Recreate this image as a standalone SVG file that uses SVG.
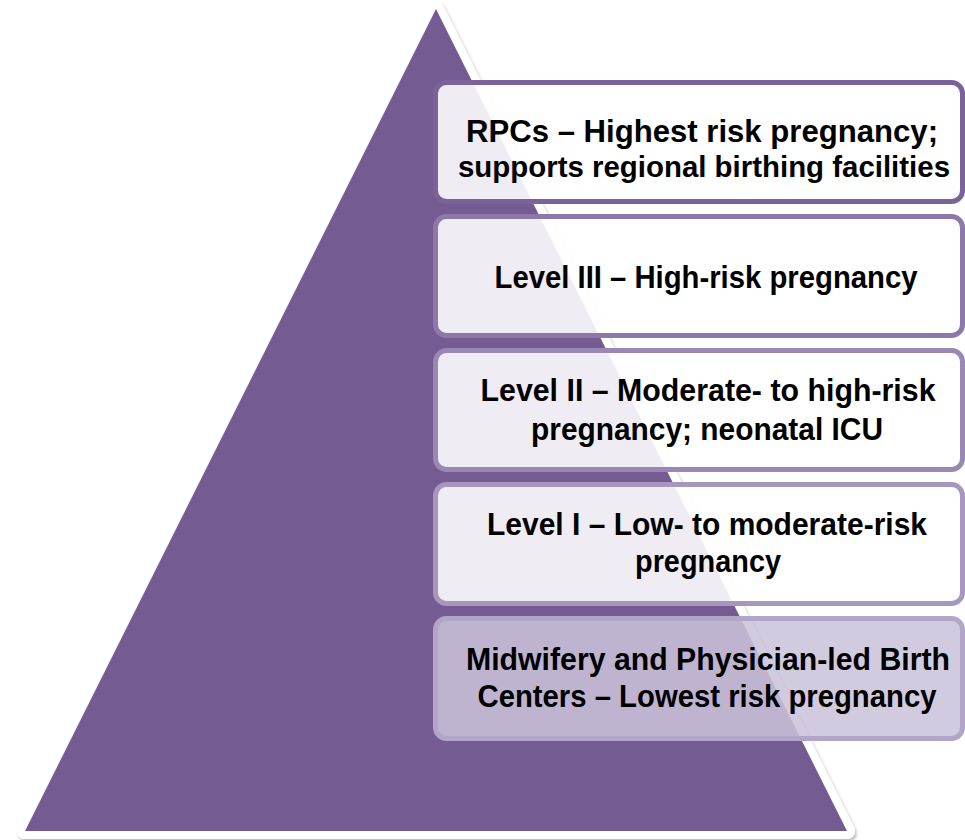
<svg xmlns="http://www.w3.org/2000/svg" width="965" height="840" viewBox="0 0 965 840">
  <style>
    .lbl { font-family: "Liberation Sans", Arial, sans-serif; font-weight: bold; font-size: 30.5px; fill: #000; text-anchor: middle; }
    .box { stroke-width: 5; }
  </style>
  <defs>
    <filter id="sh" x="-5%" y="-5%" width="110%" height="110%">
      <feDropShadow dx="1.5" dy="2.5" stdDeviation="1.8" flood-color="#000" flood-opacity="0.28"/>
    </filter>
  </defs>
  <rect width="965" height="840" fill="#fff"/>
  <g id="pyramid">
    <polygon points="436,9 25,831 847,831" fill="#fff" stroke="#fff" stroke-width="16" stroke-linejoin="round" filter="url(#sh)"/>
    <polygon points="436,9 25,831 847,831" fill="#745C93"/>
  </g>
  <g id="level-rpc">
    <rect class="box" x="435.5" y="82.5" width="527" height="119" rx="11" fill="#fff" fill-opacity="0.885" stroke="#7A6399"/>
    <text class="lbl" x="702" y="142" textLength="472" lengthAdjust="spacingAndGlyphs">RPCs – Highest risk pregnancy;</text>
    <text class="lbl" x="704" y="177" style="font-size:29.5px" textLength="492" lengthAdjust="spacingAndGlyphs">supports regional birthing facilities</text>
  </g>
  <g id="level-3">
    <rect class="box" x="435.5" y="216.5" width="527" height="119" rx="11" fill="#fff" fill-opacity="0.885" stroke="#8C78A9"/>
    <text class="lbl" x="706" y="288" textLength="423" lengthAdjust="spacingAndGlyphs">Level III – High-risk pregnancy</text>
  </g>
  <g id="level-2">
    <rect class="box" x="435.5" y="350.5" width="527" height="119" rx="11" fill="#fff" fill-opacity="0.885" stroke="#9987B4"/>
    <text class="lbl" x="708" y="401" textLength="455" lengthAdjust="spacingAndGlyphs">Level II – Moderate- to high-risk</text>
    <text class="lbl" x="707" y="440" textLength="352" lengthAdjust="spacingAndGlyphs">pregnancy; neonatal ICU</text>
  </g>
  <g id="level-1">
    <rect class="box" x="435.5" y="484.5" width="527" height="119" rx="11" fill="#fff" fill-opacity="0.885" stroke="#A797BE"/>
    <text class="lbl" x="707" y="535" textLength="440" lengthAdjust="spacingAndGlyphs">Level I – Low- to moderate-risk</text>
    <text class="lbl" x="708" y="572" textLength="146" lengthAdjust="spacingAndGlyphs">pregnancy</text>
  </g>
  <g id="birth-centers">
    <rect class="box" x="435.5" y="618.5" width="527" height="120" rx="11" fill="#CBC2DA" fill-opacity="0.86" stroke="#B2A6C8"/>
    <text class="lbl" x="708" y="670" textLength="484" lengthAdjust="spacingAndGlyphs">Midwifery and Physician-led Birth</text>
    <text class="lbl" x="707" y="707" textLength="459" lengthAdjust="spacingAndGlyphs">Centers – Lowest risk pregnancy</text>
  </g>
  <g id="connectors"/>
</svg>
